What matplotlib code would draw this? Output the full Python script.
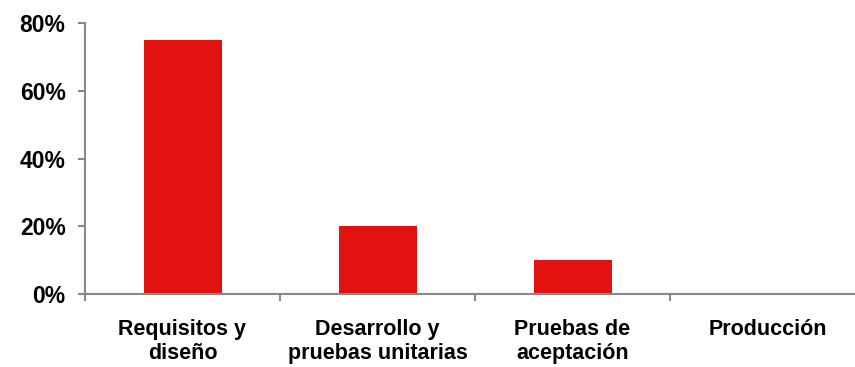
import numpy as np
import matplotlib.pyplot as plt
from matplotlib.ticker import FuncFormatter

# porcentaje de defectos por etapa
etapas = ['Requisitos y\ndiseño', 'Desarrollo y\npruebas unitarias',
          'Pruebas de\naceptación', 'Producción']
valores = [0.75, 0.20, 0.10, 0.0]

plt.rcParams['font.family'] = ['Liberation Sans', 'DejaVu Sans']
plt.rcParams['font.weight'] = 'bold'

fig = plt.figure(figsize=(8.55, 3.67), dpi=100)
ax = fig.add_axes([85/855, 73/367, 780/855, 271/367])

x = np.arange(len(etapas))
ax.bar(x, valores, width=0.4, color='#e11210')

ax.set_xlim(-0.5, len(etapas) - 0.5)
ax.set_ylim(0, 0.8)
ax.set_yticks([0, 0.2, 0.4, 0.6, 0.8])
ax.yaxis.set_major_formatter(FuncFormatter(lambda v, p: f'{v*100:.0f}%'))

ax.set_xticks(x)
ax.set_xticklabels(etapas, fontsize=15.5, fontweight='bold', linespacing=1.2)
ax.set_xticks(np.arange(len(etapas) + 1) - 0.5, minor=True)
ax.tick_params(axis='x', which='major', length=0, pad=18)
ax.tick_params(axis='x', which='minor', length=5, width=1.5, color='#888888', direction='out')
ax.tick_params(axis='y', length=5, width=1.5, color='#888888', pad=9, labelsize=16.5)
for lab in ax.get_yticklabels():
    lab.set_fontweight('bold')

for s in ['top', 'right']:
    ax.spines[s].set_visible(False)
for s in ['left', 'bottom']:
    ax.spines[s].set_color('#888888')
    ax.spines[s].set_linewidth(1.5)

plt.savefig('out.png', dpi=100)
